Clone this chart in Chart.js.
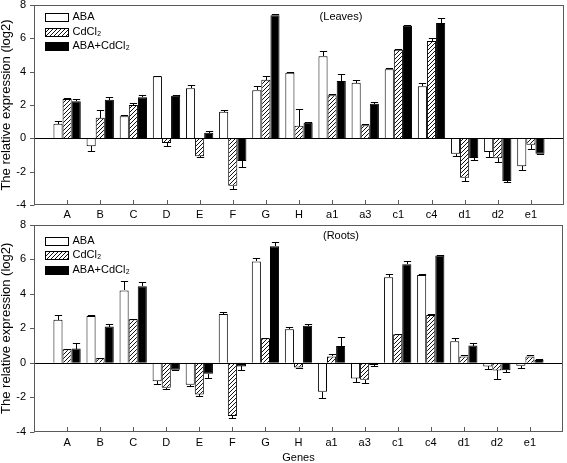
<!DOCTYPE html>
<html><head><meta charset="utf-8">
<script src="https://cdn.jsdelivr.net/npm/chart.js@4.4.1/dist/chart.umd.min.js"></script>
<style>
html,body{margin:0;padding:0;background:#fff;overflow:hidden;width:567px;height:463px;position:relative;}
#c1{position:absolute;left:0;top:-10px;}
#c2{position:absolute;left:0;top:210px;}
</style></head><body>
<canvas id="c1" width="567" height="235"></canvas>
<canvas id="c2" width="567" height="256"></canvas>
<script>
const genes = ['A','B','C','D','E','F','G','H','a1','a3','c1','c4','d1','d2','e1'];
const seriesNames = ['ABA','CdCl\u2082','ABA+CdCl\u2082'];
const yMin = -4, yMax = 8, yStep = 2;

// Leaves
const leavesABA    = [0.88,-0.48,1.32,3.72,3.00,1.60,2.88,3.94,4.92,3.34,4.14,3.12,-0.92,-0.82,-1.68];
const leavesABAErr = [0.18,0.28,0.08,0.04,0.20,0.12,0.28,0.04,0.30,0.18,0.06,0.20,0.16,0.30,0.20];
const leavesCd     = [2.36,1.24,2.00,-0.28,-1.08,-2.84,3.52,0.76,2.58,0.78,5.32,5.84,-2.36,-1.20,-0.38];
const leavesCdErr  = [0.08,0.48,0.10,0.20,0.04,0.20,0.24,0.98,0.06,0.08,0.06,0.16,0.20,0.20,0.26];
const leavesMix    = [2.22,2.32,2.46,2.56,0.34,-1.36,7.38,0.94,3.44,2.08,6.76,6.92,-1.18,-2.56,-0.92];
const leavesMixErr = [0.16,0.16,0.16,0.04,0.10,0.36,0.10,0.04,0.44,0.12,0.06,0.28,0.10,0.04,0.04];

// Roots
const rootsABA    = [2.50,2.71,4.19,-1.06,-1.27,2.83,5.87,1.94,-1.67,-0.90,4.96,5.08,1.25,-0.21,-0.17];
const rootsABAErr = [0.25,0.04,0.56,0.19,0.04,0.12,0.17,0.13,0.35,0.19,0.19,0.06,0.17,0.15,0.13];
const rootsCd     = [0.79,0.27,2.52,-1.44,-1.83,-3.08,1.42,-0.27,0.37,-0.98,1.65,2.77,0.37,-0.44,0.37];
const rootsCdErr  = [0.04,0.04,0.04,0.06,0.06,0.10,0.04,0.04,0.13,0.19,0.04,0.04,0.06,0.50,0.06];
const rootsMix    = [0.83,2.10,4.44,-0.40,-0.63,-0.21,6.75,2.15,0.98,-0.13,5.71,6.21,1.00,-0.42,0.17];
const rootsMixErr = [0.31,0.13,0.23,0.04,0.23,0.19,0.23,0.10,0.50,0.04,0.21,0.06,0.17,0.13,0.04];

// hatch pattern
function makeHatch(){
  const c = document.createElement('canvas'); c.width = 4; c.height = 4;
  const g = c.getContext('2d');
  g.fillStyle = '#fff'; g.fillRect(0,0,4,4);
  g.strokeStyle = '#111'; g.lineWidth = 1;
  g.beginPath();
  g.moveTo(-1,5); g.lineTo(5,-1);
  g.moveTo(-1,1); g.lineTo(1,-1);
  g.moveTo(3,5); g.lineTo(5,3);
  g.stroke();
  return g.createPattern(c,'repeat');
}
const hatch = makeHatch();
const fills = ['#ffffff', hatch, '#000000'];

const pad = a => [null, ...a, null];
const labels = ['', ...genes, ''];

const decor = {
  id: 'decor',
  afterDatasetsDraw(chart, args, o) {
    const {ctx, chartArea: a, scales: {x, y}} = chart;
    ctx.save();
    // error bars
    chart.data.datasets.forEach((ds, di) => {
      const meta = chart.getDatasetMeta(di);
      meta.data.forEach((bar, i) => {
        const v = ds.data[i], e = ds.errors[i];
        if (v == null || e == null) return;
        const end = v >= 0 ? v + e : v - e;
        const yb = Math.round(y.getPixelForValue(v));
        const ye = Math.round(y.getPixelForValue(end));
        const xc = Math.round(bar.x) + 0.5;
        const hw = bar.width * 0.4;
        ctx.strokeStyle = '#000'; ctx.lineWidth = 1;
        ctx.beginPath();
        ctx.moveTo(xc, yb); ctx.lineTo(xc, ye + 0.5);
        ctx.moveTo(xc - hw, ye + 0.5); ctx.lineTo(xc + hw, ye + 0.5);
        ctx.stroke();
      });
    });
    // zero line
    const y0 = Math.round(y.getPixelForValue(0)) + 0.5;
    ctx.strokeStyle = '#000'; ctx.lineWidth = 1;
    ctx.beginPath(); ctx.moveTo(a.left, y0); ctx.lineTo(a.right, y0); ctx.stroke();
    // frame
    ctx.strokeStyle = '#5a5a5a';
    ctx.strokeRect(Math.round(a.left) + 0.5, Math.round(a.top) + 0.5, Math.round(a.right - a.left) - 1, Math.round(a.bottom - a.top) - 1);
    // y ticks (outward)
    ctx.beginPath();
    for (let v = yMin; v <= yMax; v += yStep) {
      const py = Math.round(y.getPixelForValue(v)) + 0.5;
      ctx.moveTo(a.left - 4, py); ctx.lineTo(a.left + 0.5, py);
    }
    // x ticks (inward)
    for (let i = 1; i <= genes.length; i++) {
      const px = Math.round(x.getPixelForValue(i)) + 0.5;
      ctx.moveTo(px, a.bottom); ctx.lineTo(px, a.bottom - 5);
    }
    ctx.stroke();
    // legend
    ctx.font = '11px "Liberation Sans", Arial, sans-serif';
    ctx.textBaseline = 'middle'; ctx.textAlign = 'left';
    chart.data.datasets.forEach((ds, di) => {
      const cy = Math.round(a.top + o.legendTop + di * 14.5);
      const bx = Math.round(a.left + 11) + 0.5;
      ctx.fillStyle = ds.backgroundColor;
      ctx.fillRect(bx, cy - 4, 23, 8);
      ctx.strokeStyle = '#000';
      ctx.strokeRect(bx, cy - 4 + 0.5, 23, 8);
      ctx.fillStyle = '#000';
      ctx.fillText(ds.label, bx + 27, cy);
    });
    // panel title
    ctx.textAlign = 'center';
    ctx.fillText(o.title, 341, a.top + o.titleTop);
    ctx.restore();
  }
};

function makeChart(id, a, ae, b, be, c, ce, opts) {
  return new Chart(document.getElementById(id), {
    type: 'bar',
    data: {
      labels: labels,
      datasets: [
        {label: seriesNames[0], data: pad(a), errors: pad(ae), backgroundColor: fills[0]},
        {label: seriesNames[1], data: pad(b), errors: pad(be), backgroundColor: fills[1]},
        {label: seriesNames[2], data: pad(c), errors: pad(ce), backgroundColor: fills[2]}
      ].map(d => Object.assign(d, {borderColor: '#000', borderWidth: 1, categoryPercentage: 0.825, barPercentage: 1.0}))
    },
    options: {
      responsive: false, animation: false, devicePixelRatio: 1,
      layout: {padding: {top: opts.padTop, right: 2, left: 0, bottom: 0}},
      plugins: {legend: {display: false}, tooltip: {enabled: false}, decor: opts.decor},
      scales: {
        x: {
          offset: false,
          grid: {display: false, drawTicks: false, offset: false},
          border: {display: false},
          ticks: {autoSkip: false, maxRotation: 0, padding: opts.xPad, color: '#000',
                  font: {family: '"Liberation Sans", Arial, sans-serif', size: 11}},
          title: opts.xTitle ? {display: true, text: 'Genes', color: '#000', padding: {top: 0, bottom: 1},
                  font: {family: '"Liberation Sans", Arial, sans-serif', size: 11}} : {display: false},
          afterFit: s => { s.height = opts.xHeight; }
        },
        y: {
          min: yMin, max: yMax,
          grid: {display: false, drawTicks: false},
          border: {display: false},
          ticks: {stepSize: yStep, padding: 8, color: '#000',
                  font: {family: '"Liberation Sans", Arial, sans-serif', size: 11}},
          title: {display: true, text: 'The relative expression (log2)', color: '#000', padding: 0,
                  font: {family: '"Liberation Sans", Arial, sans-serif', size: 13, lineHeight: 1.0}},
          afterFit: s => { s.width = 34; }
        }
      }
    },
    plugins: [decor]
  });
}

makeChart('c1', leavesABA, leavesABAErr, leavesCd, leavesCdErr, leavesMix, leavesMixErr,
  {padTop: 15, xPad: 3, xHeight: 20, xTitle: false, decor: {legendTop: 12, titleTop: 12, title: '(Leaves)'}});
makeChart('c2', rootsABA, rootsABAErr, rootsCd, rootsCdErr, rootsMix, rootsMixErr,
  {padTop: 14, xPad: 4, xHeight: 34, xTitle: true, decor: {legendTop: 16, titleTop: 11, title: '(Roots)'}});
</script>
</body></html>
